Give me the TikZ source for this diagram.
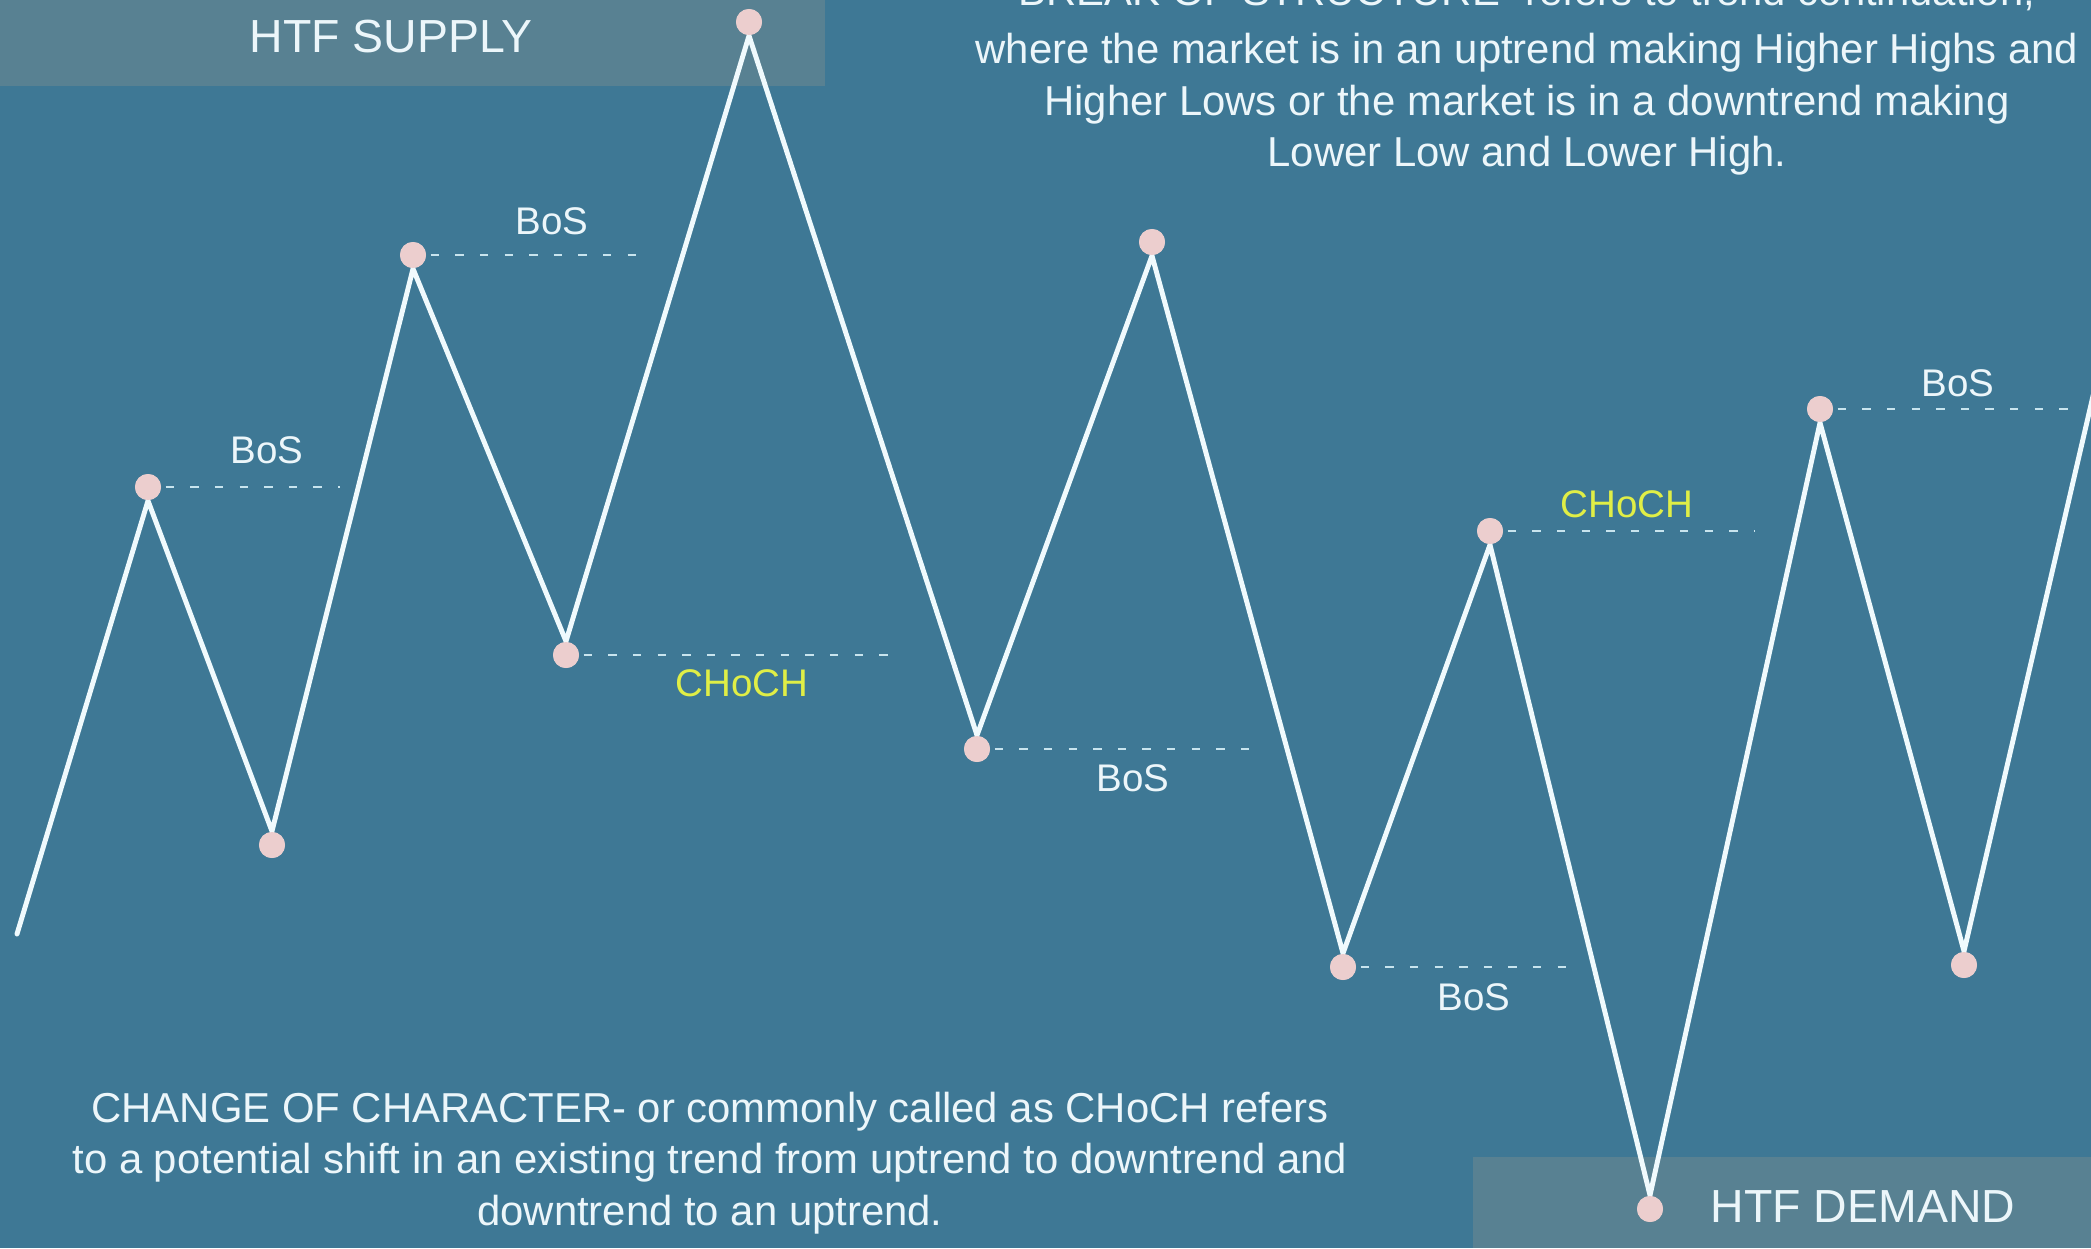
\documentclass[tikz,border=0pt]{standalone}
\usepackage{fontspec}
\setmainfont{Liberation Sans}
\definecolor{bgc}{RGB}{62,120,149}
\definecolor{boxc}{RGB}{88,129,146}
\definecolor{txtc}{RGB}{236,246,250}
\definecolor{linec}{RGB}{240,250,253}
\definecolor{dashc}{RGB}{200,228,238}
\definecolor{dotc}{RGB}{236,206,206}
\definecolor{yelc}{RGB}{224,238,70}
\begin{document}
\begin{tikzpicture}[x=0.01cm,y=-0.01cm,
  dotnode/.style={circle,fill=dotc,inner sep=0pt,minimum size=0.26cm},
  trend/.style={draw=linec,line width=1.4pt,line cap=round,line join=miter},
  dashline/.style={draw=dashc,line width=0.8pt,dash pattern=on 2.4pt off 4.6pt},
  lbl/.style={text=txtc,font=\fontsize{10.95}{13}\selectfont,inner sep=0pt},
  ylbl/.style={text=yelc,font=\fontsize{10.95}{13}\selectfont,inner sep=0pt},
  para/.style={text=txtc,font=\fontsize{11.9}{14.65}\selectfont,align=center,inner sep=0pt},
  zone/.style={text=txtc,font=\fontsize{13.2}{15}\selectfont,inner sep=0pt}]
\useasboundingbox (0,0) rectangle (2091,1248);
\clip (0,0) rectangle (2091,1248);
\fill[bgc] (0,0) rectangle (2091,1248);
\fill[boxc] (0,0) rectangle (825,86);
\fill[boxc] (1473,1157) rectangle (2091,1248);

% swing points
\node[dotnode] (p1) at (148,487) {};
\node[dotnode] (p2) at (272,845) {};
\node[dotnode] (p3) at (413,255) {};
\node[dotnode] (p4) at (566,655) {};
\node[dotnode] (p5) at (749,22) {};
\node[dotnode] (p6) at (977,749) {};
\node[dotnode] (p7) at (1152,242) {};
\node[dotnode] (p8) at (1343,967) {};
\node[dotnode] (p9) at (1490,531) {};
\node[dotnode] (p10) at (1650,1209) {};
\node[dotnode] (p11) at (1820,409) {};
\node[dotnode] (p12) at (1964,965) {};
\coordinate (start) at (17,934);
\coordinate (finish) at (2106,340);

% dashed levels
\coordinate (d1) at (340,487);
\coordinate (d2) at (651,255);
\coordinate (d3) at (903,655);
\coordinate (d4) at (1260,749);
\coordinate (d5) at (1577,967);
\coordinate (d6) at (1754,531);
\coordinate (d7) at (2072,409);
\draw[dashline] (p1.east) ++(4,0) -- (d1);
\draw[dashline] (p3.east) ++(4,0) -- (d2);
\draw[dashline] (p4.east) ++(4,0) -- (d3);
\draw[dashline] (p6.east) ++(4,0) -- (d4);
\draw[dashline] (p8.east) ++(4,0) -- (d5);
\draw[dashline] (p9.east) ++(4,0) -- (d6);
\draw[dashline] (p11.east) ++(4,0) -- (d7);

% zigzag
\draw[trend] (start) -- (p1.south) -- (p2.north) -- (p3.south) -- (p4.north)
  -- (p5.south) -- (p6.north) -- (p7.south) -- (p8.north) -- (p9.south)
  -- (p10.north) -- (p11.south) -- (p12.north) -- (finish);

% redraw dots on top
\foreach \n in {p1,p2,p3,p4,p5,p6,p7,p8,p9,p10,p11,p12}
  \fill[dotc] (\n) circle (13);

% labels
\node[lbl] (l1) at (267,450) {BoS};
\node[lbl] (l2) at (552,221) {BoS};
\node[ylbl] (l3) at (742,683) {CHoCH};
\node[lbl] (l4) at (1133,778) {BoS};
\node[lbl] (l5) at (1474,997) {BoS};
\node[ylbl] (l6) at (1627,504) {CHoCH};
\node[lbl] (l7) at (1958,383) {BoS};

\node[zone] (supply) at (391,37) {HTF SUPPLY};
\node[zone] (demand) at (1863,1207) {HTF DEMAND};

\node[para] (bostext) at (1527,75) {BREAK OF STRUCTURE- refers to trend continuation,\\[2pt]
where the market is in an uptrend making Higher Highs and\\
Higher Lows or the market is in a downtrend making\\
Lower Low and Lower High.};

\node[para] (chochtext) at (710,1163) {CHANGE OF CHARACTER- or commonly called as CHoCH refers\\
to a potential shift in an existing trend from uptrend to downtrend and\\
downtrend to an uptrend.};
\end{tikzpicture}
\end{document}
